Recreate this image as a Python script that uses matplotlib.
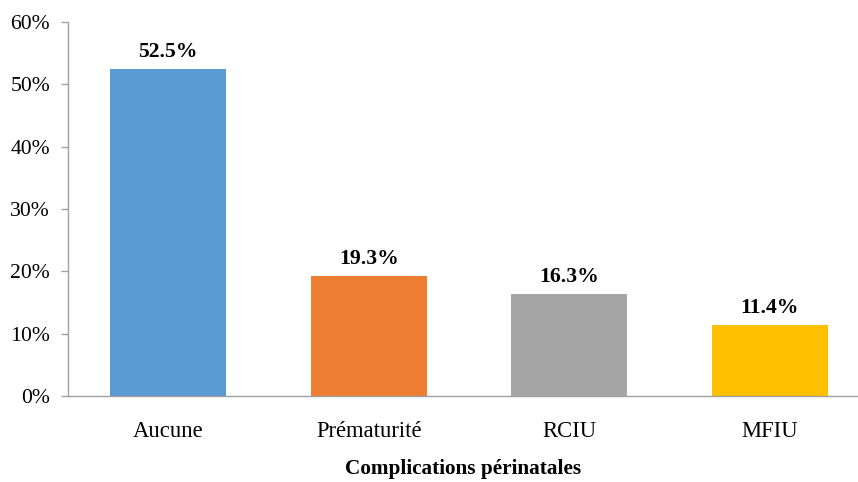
import matplotlib.pyplot as plt
from matplotlib.ticker import FuncFormatter

# data
categories = ['Aucune', 'Prématurité', 'RCIU', 'MFIU']
values = [52.5, 19.3, 16.3, 11.4]
colors = ['#5B9BD5', '#ED7D31', '#A5A5A5', '#FFC000']
y_ticks = [0, 10, 20, 30, 40, 50, 60]

plt.rcParams['font.family'] = ['Liberation Serif', 'DejaVu Serif']

fig = plt.figure(figsize=(8.58, 4.82), dpi=100)
ax = fig.add_axes([68 / 858, 86 / 482, 1 - 68 / 858, 374 / 482])

x = range(len(categories))
bars = ax.bar(x, values, width=0.58, color=colors)

# value labels above bars
for b, v in zip(bars, values):
    ax.annotate(f'{v:.1f}%', (b.get_x() + b.get_width() / 2, v),
                xytext=(0, 5), textcoords='offset points',
                ha='center', va='bottom', fontsize=15.6, fontweight='bold')

ax.set_xlim(-0.5, 3.44)
ax.set_ylim(0, 60)
ax.set_yticks(y_ticks)
ax.yaxis.set_major_formatter(FuncFormatter(lambda v, p: f'{v:.0f}%'))
ax.set_xticks(list(x))
ax.set_xticklabels(categories)
ax.tick_params(axis='x', length=0, pad=18, labelsize=16.3)
ax.tick_params(axis='y', length=5, width=1, color='#A0A0A0', pad=8, labelsize=15.6)

for s in ['top', 'right']:
    ax.spines[s].set_visible(False)
for s in ['left', 'bottom']:
    ax.spines[s].set_color('#A0A0A0')
    ax.spines[s].set_linewidth(1)

ax.set_xlabel('Complications périnatales', fontsize=15.3, fontweight='bold', labelpad=12)

fig.savefig('out.png', dpi=100)
